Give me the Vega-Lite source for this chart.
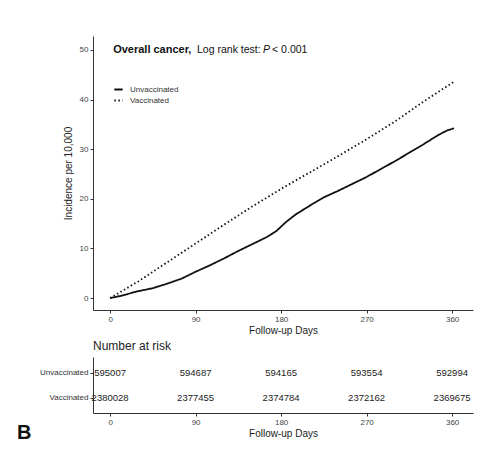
{
  "$schema": "https://vega.github.io/schema/vega-lite/v6.json",
  "padding": {"left": 17, "top": 36, "right": 14, "bottom": 5},
  "background": "white",
  "config": {
    "view": {"stroke": null},
    "font": "Liberation Sans",
    "axis": {
      "grid": false,
      "domainColor": "#333333",
      "domainWidth": 1,
      "tickColor": "#333333",
      "tickSize": 3,
      "labelColor": "#444444",
      "labelFontSize": 8,
      "labelFont": "Liberation Sans",
      "titleFont": "Liberation Sans",
      "titleFontSize": 10,
      "titleFontWeight": "normal",
      "titleColor": "#222222",
      "labelPadding": 2
    }
  },
  "datasets": {
    "curves": [
      {"group": "Unvaccinated", "day": 0, "value": 0},
      {"group": "Unvaccinated", "day": 10, "value": 0.4},
      {"group": "Unvaccinated", "day": 20, "value": 0.9},
      {"group": "Unvaccinated", "day": 30, "value": 1.4},
      {"group": "Unvaccinated", "day": 45, "value": 2.0},
      {"group": "Unvaccinated", "day": 60, "value": 2.9},
      {"group": "Unvaccinated", "day": 75, "value": 3.9},
      {"group": "Unvaccinated", "day": 90, "value": 5.3},
      {"group": "Unvaccinated", "day": 105, "value": 6.6},
      {"group": "Unvaccinated", "day": 120, "value": 8.0},
      {"group": "Unvaccinated", "day": 135, "value": 9.5},
      {"group": "Unvaccinated", "day": 150, "value": 10.9},
      {"group": "Unvaccinated", "day": 165, "value": 12.3},
      {"group": "Unvaccinated", "day": 175, "value": 13.5},
      {"group": "Unvaccinated", "day": 185, "value": 15.3},
      {"group": "Unvaccinated", "day": 195, "value": 16.8},
      {"group": "Unvaccinated", "day": 210, "value": 18.6},
      {"group": "Unvaccinated", "day": 225, "value": 20.3},
      {"group": "Unvaccinated", "day": 240, "value": 21.6},
      {"group": "Unvaccinated", "day": 255, "value": 23.0},
      {"group": "Unvaccinated", "day": 270, "value": 24.4},
      {"group": "Unvaccinated", "day": 285, "value": 26.0},
      {"group": "Unvaccinated", "day": 300, "value": 27.6},
      {"group": "Unvaccinated", "day": 315, "value": 29.3},
      {"group": "Unvaccinated", "day": 330, "value": 31.0},
      {"group": "Unvaccinated", "day": 345, "value": 32.8},
      {"group": "Unvaccinated", "day": 355, "value": 33.8},
      {"group": "Unvaccinated", "day": 362, "value": 34.2},
      {"group": "Vaccinated", "day": 0, "value": 0},
      {"group": "Vaccinated", "day": 30, "value": 3.4},
      {"group": "Vaccinated", "day": 60, "value": 7.2},
      {"group": "Vaccinated", "day": 90, "value": 11.0},
      {"group": "Vaccinated", "day": 120, "value": 14.8},
      {"group": "Vaccinated", "day": 150, "value": 18.5},
      {"group": "Vaccinated", "day": 180, "value": 22.0},
      {"group": "Vaccinated", "day": 210, "value": 25.3},
      {"group": "Vaccinated", "day": 240, "value": 28.6},
      {"group": "Vaccinated", "day": 270, "value": 32.0},
      {"group": "Vaccinated", "day": 300, "value": 35.6},
      {"group": "Vaccinated", "day": 330, "value": 39.6},
      {"group": "Vaccinated", "day": 362, "value": 43.6}
    ],
    "risk": [
      {"group": "Unvaccinated", "day": 0, "n": "595007"},
      {"group": "Unvaccinated", "day": 90, "n": "594687"},
      {"group": "Unvaccinated", "day": 180, "n": "594165"},
      {"group": "Unvaccinated", "day": 270, "n": "593554"},
      {"group": "Unvaccinated", "day": 360, "n": "592994"},
      {"group": "Vaccinated", "day": 0, "n": "2380028"},
      {"group": "Vaccinated", "day": 90, "n": "2377455"},
      {"group": "Vaccinated", "day": 180, "n": "2374784"},
      {"group": "Vaccinated", "day": 270, "n": "2372162"},
      {"group": "Vaccinated", "day": 360, "n": "2369675"}
    ],
    "one": [{}]
  },
  "vconcat": [
    {
      "width": 380,
      "height": 274,
      "layer": [
        {
          "data": {"name": "curves"},
          "mark": {"type": "line", "color": "#111111", "strokeWidth": 1.8, "strokeCap": "butt"},
          "encoding": {
            "x": {"field": "day", "type": "quantitative",
                  "scale": {"domain": [-18, 382], "nice": false, "zero": false},
                  "axis": {"values": [0, 90, 180, 270, 360], "title": "Follow-up Days", "titlePadding": 2}},
            "y": {"field": "value", "type": "quantitative",
                  "scale": {"domain": [-2.4, 52.8], "nice": false, "zero": false},
                  "axis": {"values": [0, 10, 20, 30, 40, 50], "title": "Incidence per 10,000", "titlePadding": 6}},
            "strokeDash": {"field": "group", "type": "nominal",
                  "scale": {"domain": ["Unvaccinated", "Vaccinated"], "range": [[1, 0], [1.5, 2.5]]},
                  "legend": {"title": null, "orient": "none", "legendX": 20, "legendY": 48,
                             "labelFontSize": 8, "labelColor": "#333333", "symbolType": "stroke",
                             "symbolSize": 70, "symbolStrokeWidth": 1.8, "symbolStrokeColor": "#111111",
                             "rowPadding": 1, "labelOffset": 6}}
          }
        },
        {
          "data": {"name": "one"},
          "mark": {"type": "text", "align": "left", "baseline": "middle", "fontSize": 11, "fontWeight": "bold", "color": "#111111"},
          "encoding": {"x": {"datum": 3.2}, "y": {"datum": 50}, "text": {"value": "Overall cancer,"}}
        },
        {
          "data": {"name": "one"},
          "mark": {"type": "text", "align": "left", "baseline": "middle", "fontSize": 10.5, "color": "#111111"},
          "encoding": {"x": {"datum": 91.5}, "y": {"datum": 50}, "text": {"value": "Log rank test:"}}
        },
        {
          "data": {"name": "one"},
          "mark": {"type": "text", "align": "left", "baseline": "middle", "fontSize": 10.5, "fontStyle": "italic", "color": "#111111"},
          "encoding": {"x": {"datum": 161}, "y": {"datum": 50}, "text": {"value": "P"}}
        },
        {
          "data": {"name": "one"},
          "mark": {"type": "text", "align": "left", "baseline": "middle", "fontSize": 10.5, "color": "#111111"},
          "encoding": {"x": {"datum": 170.5}, "y": {"datum": 50}, "text": {"value": "< 0.001"}}
        }
      ]
    },
    {
      "width": 380,
      "height": 56,
      "title": {"text": "Number at risk", "anchor": "start", "frame": "group", "fontSize": 12, "fontWeight": "normal", "color": "#222222", "offset": 4, "font": "Liberation Sans"},
      "layer": [
        {
          "data": {"name": "risk"},
          "mark": {"type": "text", "fontSize": 9.5, "color": "#222222", "baseline": "middle"},
          "encoding": {
            "x": {"field": "day", "type": "quantitative",
                  "scale": {"domain": [-18, 382], "nice": false, "zero": false},
                  "axis": {"values": [0, 90, 180, 270, 360], "title": "Follow-up Days", "titlePadding": 2}},
            "y": {"field": "group", "type": "ordinal",
                  "scale": {"type": "point", "domain": ["Unvaccinated", "Vaccinated"], "padding": 0.62},
                  "axis": {"title": null, "labelFontSize": 8, "labelColor": "#333333"}},
            "text": {"field": "n"}
          }
        },
        {
          "data": {"name": "one"},
          "mark": {"type": "text", "align": "left", "baseline": "middle", "fontSize": 20, "fontWeight": "bold", "color": "#111111", "dy": 35},
          "encoding": {"x": {"datum": -98}, "y": {"datum": "Vaccinated"}, "text": {"value": "B"}}
        }
      ]
    }
  ],
  "spacing": 5
}
